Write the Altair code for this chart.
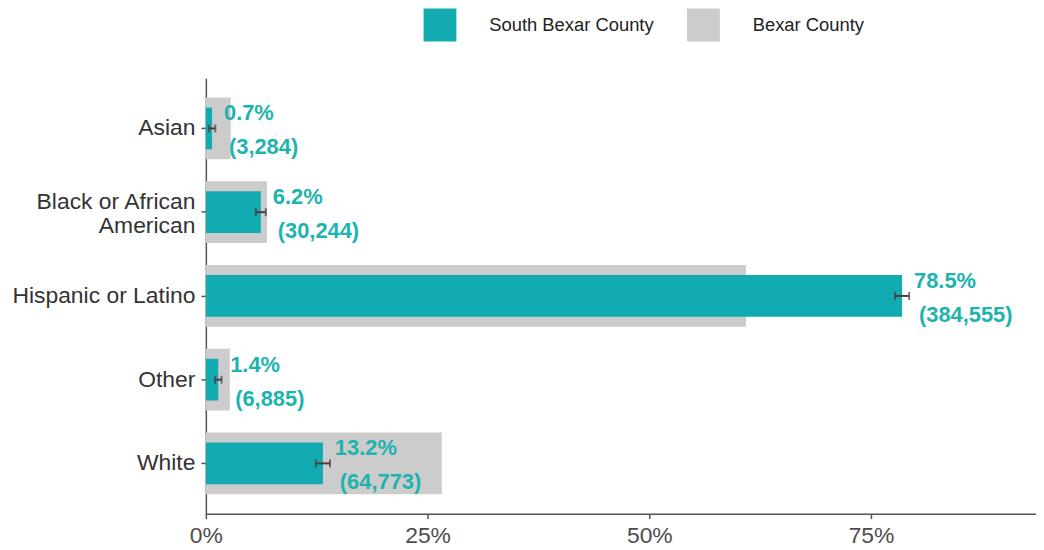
import altair as alt
import pandas as pd

categories = ["Asian", "Black or African American", "Hispanic or Latino", "Other", "White"]
south_pct = [0.7, 6.2, 78.5, 1.4, 13.2]
south_count = ["3,284", "30,244", "384,555", "6,885", "64,773"]
county_pct = [2.8, 6.9, 60.9, 2.7, 26.6]
err_lo = [0.33, 5.64, 77.7, 1.03, 12.4]
err_hi = [1.07, 6.76, 79.3, 1.77, 14.0]
series_names = ["South Bexar County", "Bexar County"]
x_ticks = [0, 25, 50, 75]

TEAL = "#12ABB1"
TEXT_TEAL = "#1DB3AE"
GRAY = "#CCCCCC"
ERR = "#4B3B3B"
FONT = "Liberation Sans"

bars = pd.DataFrame({
    "category": categories * 2,
    "value": south_pct + county_pct,
    "series": [series_names[0]] * 5 + [series_names[1]] * 5,
})
south = pd.DataFrame({
    "category": categories,
    "value": south_pct,
    "lo": err_lo,
    "hi": err_hi,
    "line1": [f"{v}%" for v in south_pct],
    "line2": [f"({c})" for c in south_count],
})

x_scale = alt.Scale(domain=[0, 93.6], nice=False, zero=True)
y_scale = alt.Scale(domain=categories, paddingInner=0, paddingOuter=0.1)

x_axis = alt.Axis(
    title=None, values=x_ticks, labelExpr="datum.value + '%'", grid=False,
    labelFlush=False, labelFontSize=23, labelColor="#4D4D4D", labelFont=FONT,
    labelPadding=6, tickSize=5, tickColor="#555555", tickWidth=1.5,
    domainColor="#555555", domainWidth=1.5,
)
y_axis = alt.Axis(
    title=None, grid=False, labelFontSize=23, labelColor="#333333", labelFont=FONT,
    labelPadding=6, labelLimit=400, labelLineHeight=24,
    labelExpr="datum.value == 'Black or African American' ? ['Black or African', 'American'] : datum.label",
    labelOffset={"condition": {"test": "datum.value == 'Black or African American'", "value": -10}, "value": 0},
    tickSize=5, tickColor="#555555", tickWidth=1.5,
    domainColor="#555555", domainWidth=1.5,
)

X = alt.X("value:Q", scale=x_scale, axis=x_axis)
Y = alt.Y("category:N", scale=y_scale, axis=y_axis, sort=categories)

color = alt.Color(
    "series:N",
    scale=alt.Scale(domain=series_names, range=[TEAL, GRAY]),
    legend=alt.Legend(
        title=None, orient="none", legendX=219, legendY=-70, direction="horizontal",
        symbolType="square", symbolSize=1089, symbolStrokeWidth=0, symbolOpacity=1,
        labelFontSize=18.5, labelFont=FONT, labelColor="#222222", labelOffset=33,
        labelLimit=400, columnPadding=33, padding=0,
    ),
)

base_bars = alt.Chart(bars)
gray_bars = base_bars.transform_filter(alt.datum.series == series_names[1]).mark_bar(size=62).encode(
    x=X, y=Y, color=color
)
teal_bars = base_bars.transform_filter(alt.datum.series == series_names[0]).mark_bar(size=42).encode(
    x=X, y=Y, color=color
)

base_s = alt.Chart(south)
err_rule = base_s.mark_rule(color=ERR, strokeWidth=2).encode(
    x=alt.X("lo:Q", scale=x_scale, axis=x_axis), x2="hi:Q", y=Y
)
err_lo_tick = base_s.mark_tick(color=ERR, thickness=2, size=8, orient="vertical").encode(
    x=alt.X("lo:Q", scale=x_scale, axis=x_axis), y=Y
)
err_hi_tick = base_s.mark_tick(color=ERR, thickness=2, size=8, orient="vertical").encode(
    x=alt.X("hi:Q", scale=x_scale, axis=x_axis), y=Y
)

text1 = base_s.mark_text(
    align="left", baseline="middle", dx=12, dy=-15, fontSize=22, fontWeight="bold",
    font=FONT, color=TEXT_TEAL
).encode(x=X, y=Y, text="line1:N")
text2 = base_s.mark_text(
    align="left", baseline="middle", dx=17, dy=19, fontSize=22, fontWeight="bold",
    font=FONT, color=TEXT_TEAL
).encode(x=X, y=Y, text="line2:N")

chart = alt.layer(
    gray_bars, teal_bars, err_rule, err_lo_tick, err_hi_tick, text1, text2
).properties(
    width=835, height=438,
    autosize=alt.AutoSizeParams(type="none"),
    padding={"left": 199, "top": 69, "right": 0, "bottom": 40},
    background="white",
).configure(font=FONT).configure_view(strokeWidth=0, stroke="transparent")

chart.save("out.html", embed_options={"renderer": "svg", "actions": False})
